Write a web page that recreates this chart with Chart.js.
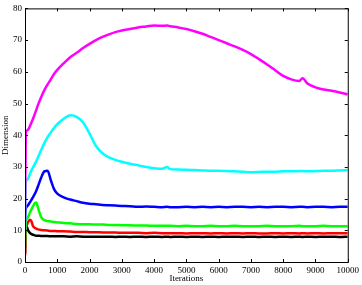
<!DOCTYPE html>
<html>
<head>
<meta charset="utf-8">
<script src="https://cdn.jsdelivr.net/npm/chart.js@4/dist/chart.umd.min.js"></script>
<style>
    html, body { margin: 0; padding: 0; background: #fff; }
    #wrap { width: 362px; height: 285px; }
</style>
</head>
<body>
<div id="wrap"><canvas id="dimChart"></canvas></div>
<script>
const iterations = [0, 25, 50, 100, 150, 200, 250, 300, 350, 400, 500, 600, 700, 800, 900, 1000,
    1200, 1400, 1600, 1800, 2000, 2200, 2400, 2600, 2800, 3000, 3250, 3500, 3750, 4000, 4250, 4400,
    4500, 4750, 5000, 5250, 5500, 5750, 6000, 6250, 6500, 6750, 7000, 7250, 7500, 7750, 8000, 8250,
    8500, 8600, 8750, 9000, 9250, 9500, 9750, 10000];

const magentaVals = [12.5, 41.2, 41.4, 41.8, 42.8, 44.0, 45.2, 46.6, 48.0, 49.5, 52.0, 54.2, 56.0, 57.6, 59.3, 60.6,
    62.7, 64.6, 66.0, 67.5, 68.8, 70.0, 71.0, 71.8, 72.5, 73.0, 73.5, 74.0, 74.3, 74.6, 74.5, 74.6,
    74.4, 74.0, 73.5, 72.8, 72.0, 71.0, 70.0, 69.0, 68.0, 66.9, 65.6, 64.0, 62.3, 60.5, 58.7, 57.6,
    57.1, 58.0, 56.3, 55.1, 54.4, 54.0, 53.5, 52.9];

const cyanVals = [10.0, 25.7, 25.8, 26.4, 27.7, 28.9, 29.9, 30.8, 31.8, 33.0, 35.3, 37.5, 39.4, 40.9, 42.3, 43.5,
    45.2, 46.3, 45.8, 44.0, 40.5, 36.6, 34.3, 33.0, 32.2, 31.6, 31.0, 30.5, 30.0, 29.6, 29.4, 30.0,
    29.3, 29.2, 29.1, 29.0, 28.9, 28.8, 28.8, 28.7, 28.6, 28.5, 28.3, 28.4, 28.5, 28.5, 28.6, 28.6,
    28.7, 28.7, 28.6, 28.7, 28.8, 28.8, 28.9, 29.0];

const blueVals = [14.0, 16.8, 17.3, 18.0, 18.8, 19.6, 20.5, 21.4, 22.5, 23.8, 26.6, 28.6, 28.8, 25.8, 23.0, 21.6,
    20.4, 19.7, 19.2, 18.7, 18.4, 18.2, 18.0, 17.9, 17.8, 17.7, 17.6, 17.4, 17.5, 17.4, 17.3, 17.4,
    17.3, 17.3, 17.4, 17.3, 17.4, 17.3, 17.4, 17.3, 17.4, 17.4, 17.3, 17.4, 17.3, 17.4, 17.4, 17.3,
    17.4, 17.4, 17.3, 17.4, 17.4, 17.3, 17.4, 17.4];

const greenVals = [5.0, 13.0, 13.5, 14.3, 15.5, 16.6, 17.6, 18.5, 18.8, 17.2, 14.2, 13.2, 12.9, 12.8, 12.6, 12.5,
    12.3, 12.2, 12.0, 11.9, 11.9, 11.8, 11.8, 11.7, 11.7, 11.6, 11.6, 11.5, 11.5, 11.4, 11.4, 11.4,
    11.4, 11.3, 11.4, 11.3, 11.3, 11.4, 11.3, 11.3, 11.4, 11.3, 11.3, 11.3, 11.4, 11.3, 11.3, 11.3,
    11.4, 11.3, 11.3, 11.3, 11.4, 11.3, 11.3, 11.3];

const redVals = [2.0, 10.5, 11.5, 12.7, 13.3, 12.8, 11.3, 10.8, 10.5, 10.3, 10.1, 10.0, 9.9, 9.8, 9.8, 9.7,
    9.7, 9.6, 9.5, 9.5, 9.4, 9.4, 9.3, 9.3, 9.3, 9.2, 9.2, 9.2, 9.1, 9.2, 9.1, 9.1,
    9.1, 9.1, 9.0, 9.1, 9.1, 9.0, 9.1, 9.0, 9.1, 9.0, 9.1, 9.0, 9.0, 9.1, 9.0, 9.1,
    9.0, 9.1, 9.0, 9.1, 9.0, 9.1, 9.1, 9.1];

const blackVals = [2.5, 10.5, 11.2, 9.9, 9.2, 8.8, 8.6, 8.4, 8.3, 8.3, 8.2, 8.2, 8.2, 8.1, 8.1, 8.1,
    8.1, 8.0, 8.1, 8.0, 8.0, 8.0, 8.0, 8.0, 7.9, 8.0, 7.9, 8.0, 7.9, 8.0, 7.9, 8.0,
    7.9, 8.0, 7.9, 8.0, 7.9, 8.0, 7.9, 8.0, 8.0, 7.9, 8.0, 7.9, 8.0, 7.9, 8.0, 7.9,
    8.0, 7.9, 8.0, 7.9, 8.0, 8.0, 7.9, 8.0];

const xTicks = [0, 1000, 2000, 3000, 4000, 5000, 6000, 7000, 8000, 9000, 10000];
const yTicks = [0, 10, 20, 30, 40, 50, 60, 70, 80];

const seriesList = [
    { values: magentaVals, color: '#ff00ff' },
    { values: cyanVals, color: '#00ffff' },
    { values: blueVals, color: '#0000ff' },
    { values: greenVals, color: '#00ff00' },
    { values: redVals, color: '#ff0000' },
    { values: blackVals, color: '#000000' }
];

const serif = "'Liberation Serif', 'DejaVu Serif', serif";

// Box around the plot with ticks pointing inward on all four sides
const frameTicks = {
    id: 'frameTicks',
    afterDraw(chart) {
        const ctx = chart.ctx;
        const area = chart.chartArea;
        const xs = chart.scales.x;
        const ys = chart.scales.y;
        const len = 3;
        ctx.save();
        ctx.strokeStyle = '#000';
        ctx.lineWidth = 1;
        ctx.strokeRect(area.left + 0.5, area.top + 0.5, area.right - area.left, area.bottom - area.top);
        ctx.beginPath();
        xTicks.forEach(v => {
            const px = Math.round(xs.getPixelForValue(v)) + 0.5;
            ctx.moveTo(px, area.bottom);
            ctx.lineTo(px, area.bottom - len);
            ctx.moveTo(px, area.top);
            ctx.lineTo(px, area.top + len);
        });
        yTicks.forEach(v => {
            const py = Math.round(ys.getPixelForValue(v)) + 0.5;
            ctx.moveTo(area.left, py);
            ctx.lineTo(area.left + len, py);
            ctx.moveTo(area.right, py);
            ctx.lineTo(area.right - len, py);
        });
        ctx.stroke();
        ctx.restore();
    }
};

new Chart(document.getElementById('dimChart').getContext('2d'), {
    type: 'line',
    data: {
        datasets: seriesList.map(s => ({
            data: iterations.map((it, i) => ({ x: it, y: s.values[i] })),
            borderColor: s.color,
            borderWidth: 2.5,
            pointRadius: 0,
            fill: false,
            cubicInterpolationMode: 'monotone'
        }))
    },
    options: {
        responsive: true,
        maintainAspectRatio: false,
        animation: false,
        layout: {
            padding: { top: 7, right: 13, bottom: 0, left: 0 }
        },
        plugins: {
            legend: { display: false },
            tooltip: { enabled: false }
        },
        scales: {
            x: {
                type: 'linear',
                min: 0,
                max: 10000,
                afterBuildTicks: scale => { scale.ticks = xTicks.map(v => ({ value: v })); },
                afterFit: scale => { scale.height = 23; },
                grid: { display: false, drawTicks: false },
                border: { display: false },
                ticks: {
                    color: '#000',
                    padding: 3,
                    maxRotation: 0,
                    autoSkip: false,
                    font: { family: serif, size: 9 },
                    callback: v => String(v)
                },
                title: {
                    display: true,
                    text: 'Iterations',
                    color: '#000',
                    padding: { top: 0, bottom: 1 },
                    font: { family: serif, size: 9 }
                }
            },
            y: {
                type: 'linear',
                min: 0,
                max: 80,
                afterBuildTicks: scale => { scale.ticks = yTicks.map(v => ({ value: v })); },
                afterFit: scale => { scale.width = 25; },
                grid: { display: false, drawTicks: false },
                border: { display: false },
                ticks: {
                    color: '#000',
                    padding: 3,
                    autoSkip: false,
                    font: { family: serif, size: 9 },
                    callback: v => String(v)
                },
                title: {
                    display: true,
                    text: 'Dimension',
                    color: '#000',
                    padding: { top: 0, bottom: 0 },
                    font: { family: serif, size: 9 }
                }
            }
        }
    },
    plugins: [frameTicks]
});
</script>
</body>
</html>
